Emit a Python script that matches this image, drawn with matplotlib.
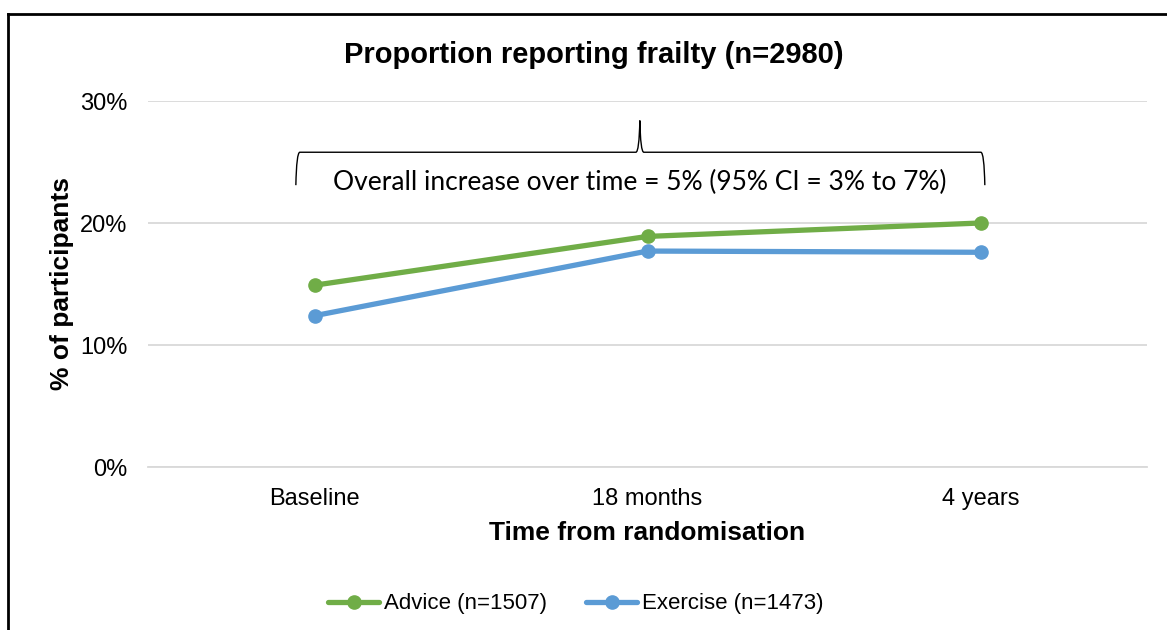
#!/usr/bin/env python3
import matplotlib
matplotlib.use("Agg")
import matplotlib.pyplot as plt
from matplotlib.path import Path
from matplotlib.patches import PathPatch
from matplotlib.lines import Line2D
from matplotlib.ticker import PercentFormatter

# data
timepoints = ["Baseline", "18 months", "4 years"]
advice = [0.149, 0.189, 0.200]
exercise = [0.124, 0.177, 0.176]
series_names = ["Advice (n=1507)", "Exercise (n=1473)"]
yticks = [0, 0.10, 0.20, 0.30]

GREEN = "#70AD47"
BLUE = "#5B9BD5"

plt.rcParams['font.family'] = ['Liberation Sans', 'DejaVu Sans']

fig = plt.figure(figsize=(11.67, 6.3), dpi=100)
ax = fig.add_axes([148 / 1167, 1 - 467 / 630, 999 / 1167, 366 / 630])

x = list(range(len(timepoints)))
ax.plot(x, advice, color=GREEN, lw=3.8, marker="o", ms=9.5, label=series_names[0],
        solid_capstyle="round", zorder=3)
ax.plot(x, exercise, color=BLUE, lw=3.8, marker="o", ms=9.5, label=series_names[1],
        solid_capstyle="round", zorder=3)

ax.set_xlim(-0.5, len(timepoints) - 0.5)
ax.set_ylim(0, 0.30)
ax.set_yticks(yticks)
ax.yaxis.set_major_formatter(PercentFormatter(1.0, decimals=0))
ax.set_xticks(x)
ax.set_xticklabels(timepoints)
for s in ['top', 'right', 'left']:
    ax.spines[s].set_visible(False)
ax.spines['bottom'].set_color("#D9D9D9")
ax.spines['bottom'].set_linewidth(1.3)
ax.tick_params(axis='both', length=0, labelsize=17, colors="#000000")
ax.tick_params(axis='y', pad=15)
ax.tick_params(axis='x', pad=15)
ax.grid(axis='y', color="#D9D9D9", lw=1.3)
ax.set_axisbelow(True)

ax.set_xlabel("Time from randomisation", fontsize=19, fontweight='bold', labelpad=8)
ax.set_ylabel("% of participants", fontsize=19, fontweight='bold', labelpad=4)
fig.text(594 / 1167, 1 - 55 / 630, "Proportion reporting frailty (n=2980)",
         fontsize=21, fontweight='bold', ha='center', va='center')

# curly brace above the lines
xl, xr, xm = -0.056, 2.013, 0.977
yb, yt, yp = 0.231, 0.258, 0.284
d = 0.012
verts = [(xl, yb), (xl + 0.002, yt), (xl + d, yt),
         (xm - d, yt),
         (xm - 0.002, yt), (xm, yp),
         (xm + 0.002, yt), (xm + d, yt),
         (xr - d, yt),
         (xr - 0.002, yt), (xr, yb)]
codes = [Path.MOVETO, Path.CURVE3, Path.CURVE3,
         Path.LINETO,
         Path.CURVE3, Path.CURVE3,
         Path.CURVE3, Path.CURVE3,
         Path.LINETO,
         Path.CURVE3, Path.CURVE3]
ax.add_patch(PathPatch(Path(verts, codes), fill=False, lw=1.0, color="black",
                       clip_on=False))
ax.text(xm, 0.2335, "Overall increase over time = 5% (95% CI = 3% to 7%)",
        family=['Lato', 'DejaVu Sans'], fontsize=19, ha='center', va='center')

leg = fig.legend(loc='center', bbox_to_anchor=(576 / 1167, 1 - 604 / 630), ncol=2,
                 frameon=False, fontsize=16, handlelength=2.3, handletextpad=0.22,
                 columnspacing=1.75)

# outer frame (left and top edges only, as in the reference)
fig.add_artist(Line2D([8 / 1167, 8 / 1167], [0, 1 - 14 / 630], color="black", lw=2,
                      transform=fig.transFigure))
fig.add_artist(Line2D([8 / 1167, 1], [1 - 14 / 630, 1 - 14 / 630], color="black", lw=2,
                      transform=fig.transFigure))

fig.savefig("out.png", dpi=100)
